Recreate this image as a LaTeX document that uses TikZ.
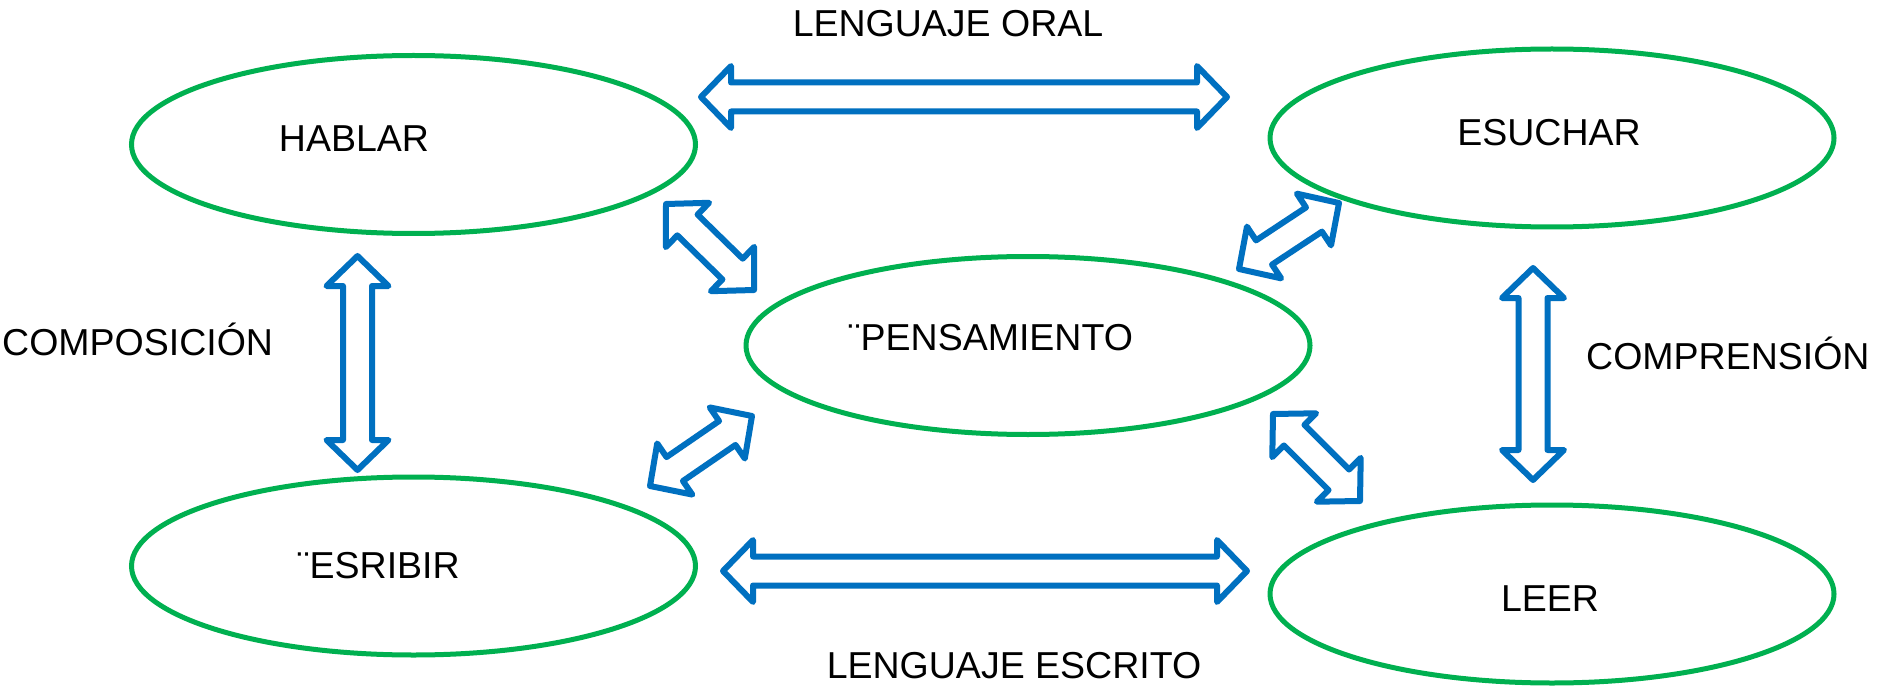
\documentclass[tikz,border=0pt]{standalone}
\usepackage{fontspec}
\setmainfont{Liberation Sans}
\usetikzlibrary{calc,shapes.geometric}
\definecolor{ellgreen}{HTML}{00B050}
\definecolor{arrblue}{HTML}{0070C0}
\tikzset{
  ell/.style={draw=ellgreen, line width=5pt, ellipse, inner sep=0pt, outer sep=0pt,
              minimum width=564pt, minimum height=178pt},
  lbl/.style={inner sep=0pt, font=\fontsize{37.5}{45}\selectfont, text=black},
  blockarr/.style={draw=arrblue, line width=6pt, line join=round, fill=white}
}
% double block arrow between two named coordinates
\newcommand\dblblock[2]{%
  \draw[blockarr] (#1)
   -- ($(#1)!30pt!(#2)!31pt!90:(#2)$)
   -- ($(#1)!30pt!(#2)!14.5pt!90:(#2)$)
   -- ($(#2)!30pt!(#1)!14.5pt!-90:(#1)$)
   -- ($(#2)!30pt!(#1)!31pt!-90:(#1)$)
   -- (#2)
   -- ($(#2)!30pt!(#1)!31pt!90:(#1)$)
   -- ($(#2)!30pt!(#1)!14.5pt!90:(#1)$)
   -- ($(#1)!30pt!(#2)!14.5pt!-90:(#2)$)
   -- ($(#1)!30pt!(#2)!31pt!-90:(#2)$)
   -- cycle;}
\begin{document}
\begin{tikzpicture}[x=1pt,y=-1pt]
\useasboundingbox[fill=white] (0,0) rectangle (1882,687);
% ellipses
\node[ell] (hablar) at (413.5,144.5) {};
\node[ell] (esuchar) at (1552,138) {};
\node[ell] (pens) at (1028,345.5) {};
\node[ell] (esribir) at (413.5,566) {};
\node[ell] (leer) at (1552,594) {};
% texts
\node[lbl, anchor=base] (thablar) at (354,152) {HABLAR};
\node[lbl, anchor=base] (tesuchar) at (1549,146) {ESUCHAR};
\node[lbl, anchor=base west] (tpens) at (848,350) {¨PENSAMIENTO};
\node[lbl, anchor=base west] (tesribir) at (297,578) {¨ESRIBIR};
\node[lbl, anchor=base] (tleer) at (1550,611) {LEER};
\node[lbl, anchor=base] (toral) at (948,37) {LENGUAJE ORAL};
\node[lbl, anchor=base] (tescrito) at (1014,678) {LENGUAJE ESCRITO};
\node[lbl, anchor=base west] (tcompos) at (2,355) {COMPOSICIÓN};
\node[lbl, anchor=base west] (tcompr) at (1586,369) {COMPRENSIÓN};
% arrow end points
\coordinate (a1) at (701,97);   \coordinate (b1) at (1227,97);
\coordinate (a2) at (723,571);  \coordinate (b2) at (1247,571);
\coordinate (a3) at (357.5,256); \coordinate (b3) at (357.5,470);
\coordinate (a4) at (1533,268); \coordinate (b4) at (1533,480);
\coordinate (a5) at (666,204);  \coordinate (b5) at (754,290);
\coordinate (a6) at (650,486);  \coordinate (b6) at (752,416);
\coordinate (a7) at (1239,269); \coordinate (b7) at (1339,203);
\coordinate (a8) at (1273,414); \coordinate (b8) at (1360,501);
\dblblock{a1}{b1}
\dblblock{a2}{b2}
\dblblock{a3}{b3}
\dblblock{a4}{b4}
\dblblock{a5}{b5}
\dblblock{a6}{b6}
\dblblock{a7}{b7}
\dblblock{a8}{b8}
\end{tikzpicture}
\end{document}
